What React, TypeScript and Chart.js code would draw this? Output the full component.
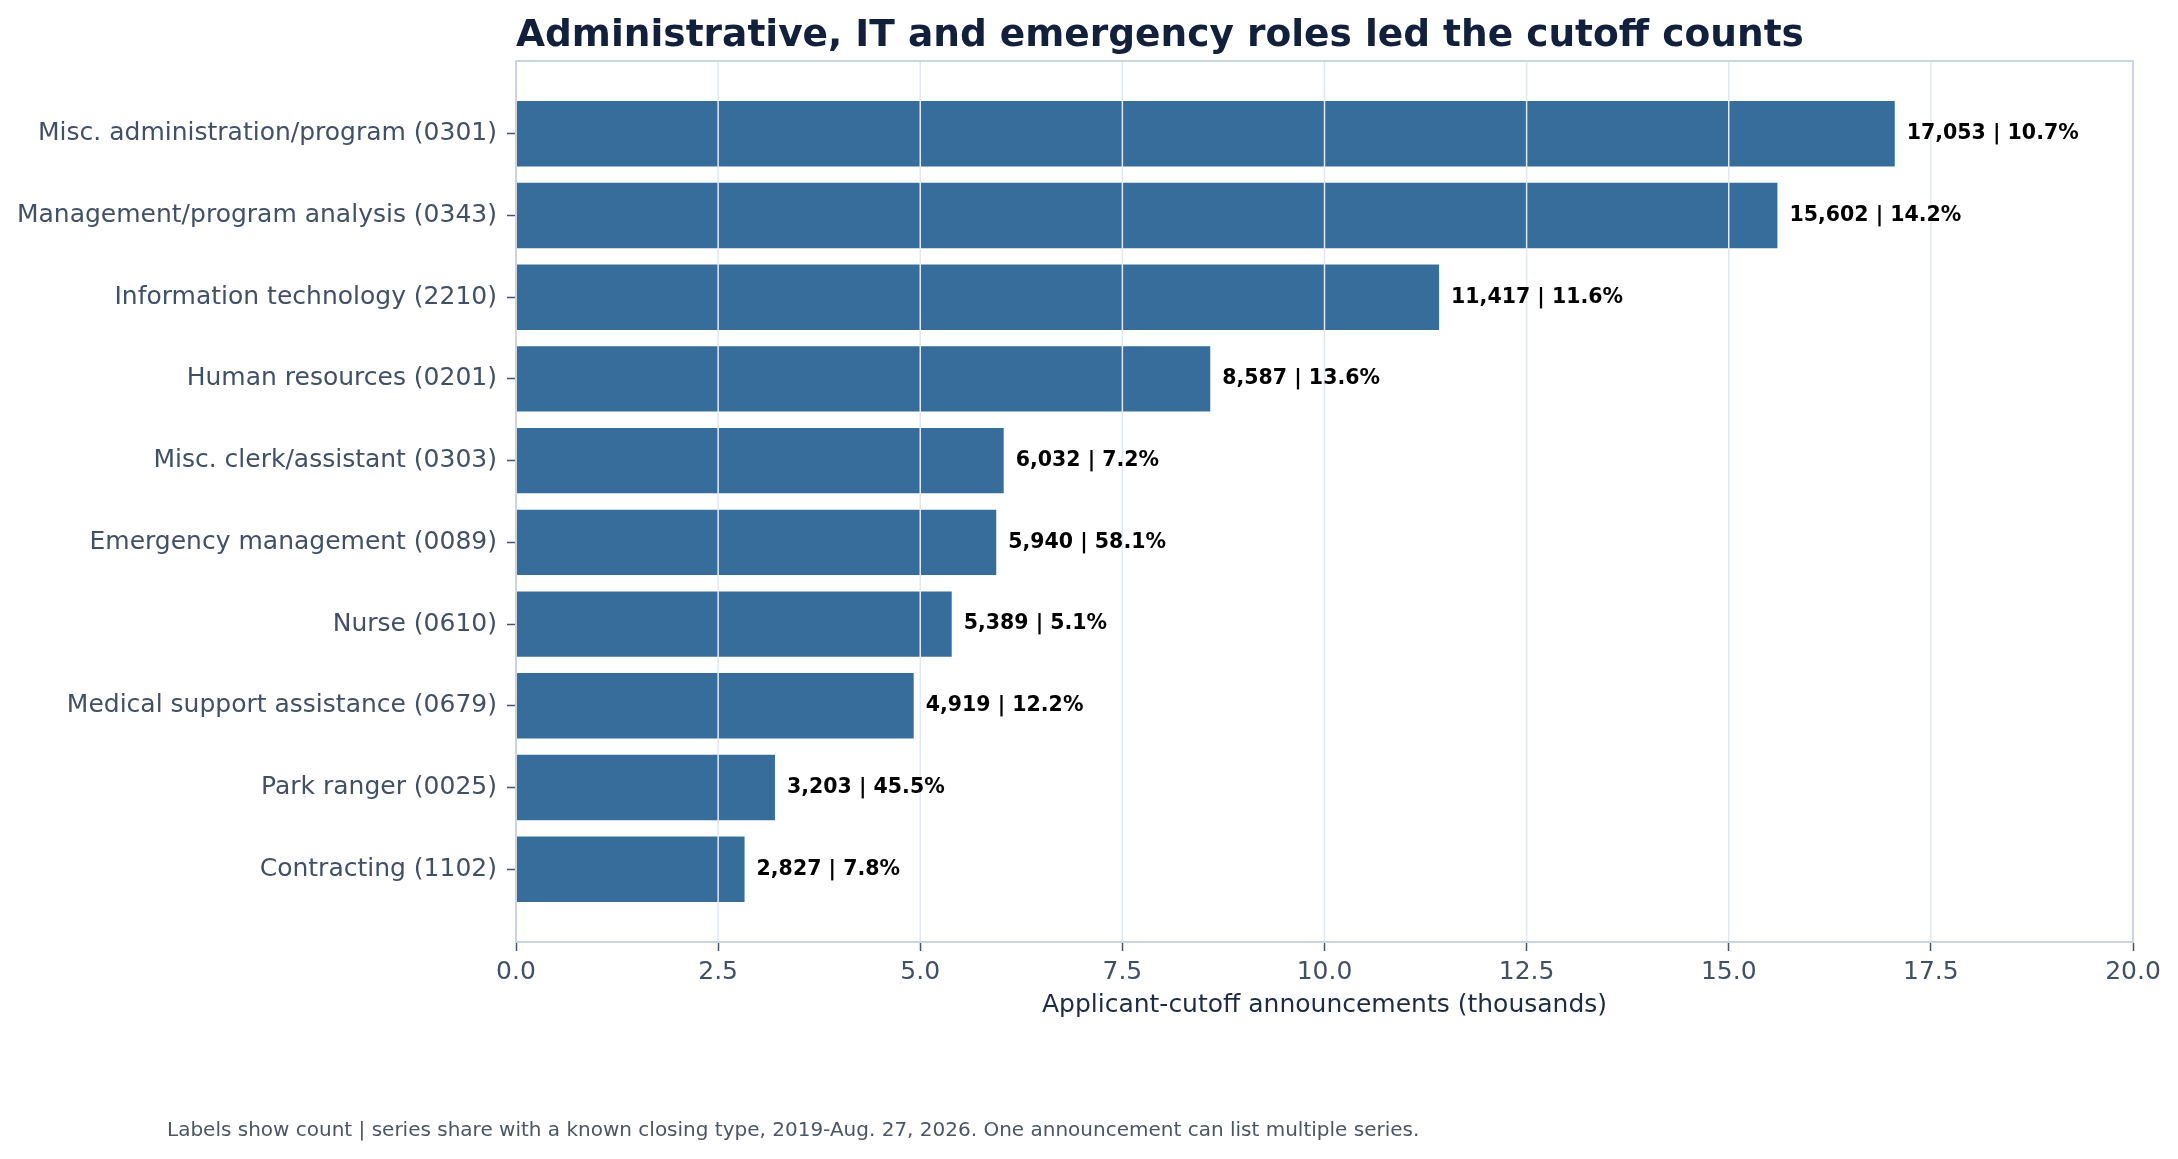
import React, { useEffect, useRef } from 'react';
import { Chart, registerables } from 'chart.js';

Chart.register(...registerables);

const categories = [
  'Misc. administration/program (0301)',
  'Management/program analysis (0343)',
  'Information technology (2210)',
  'Human resources (0201)',
  'Misc. clerk/assistant (0303)',
  'Emergency management (0089)',
  'Nurse (0610)',
  'Medical support assistance (0679)',
  'Park ranger (0025)',
  'Contracting (1102)',
];
const counts = [17053, 15602, 11417, 8587, 6032, 5940, 5389, 4919, 3203, 2827];
const shares = [10.7, 14.2, 11.6, 13.6, 7.2, 58.1, 5.1, 12.2, 45.5, 7.8];
const xTicks = [0, 2.5, 5, 7.5, 10, 12.5, 15, 17.5, 20];

const titleText = 'Administrative, IT and emergency roles led the cutoff counts';
const xTitle = 'Applicant-cutoff announcements (thousands)';
const footnote =
  'Labels show count | series share with a known closing type, 2019-Aug. 27, 2026. One announcement can list multiple series.';

const FONT = '"DejaVu Sans", sans-serif';

// gridlines over the bars, frame, bar-end labels, title and footnote
const decorations = {
  id: 'decorations',
  afterDatasetsDraw(chart: any) {
    const { ctx, chartArea, scales } = chart;
    ctx.save();
    ctx.strokeStyle = '#e2e8f0';
    ctx.lineWidth = 1.5;
    xTicks.forEach((v) => {
      const px = scales.x.getPixelForValue(v);
      ctx.beginPath();
      ctx.moveTo(px, chartArea.top);
      ctx.lineTo(px, chartArea.bottom);
      ctx.stroke();
    });
    ctx.restore();
  },
  afterDraw(chart: any) {
    const { ctx, chartArea } = chart;
    const meta = chart.getDatasetMeta(0);
    ctx.save();
    ctx.strokeStyle = '#cbd5e1';
    ctx.lineWidth = 2;
    ctx.strokeRect(chartArea.left, chartArea.top, chartArea.right - chartArea.left, chartArea.bottom - chartArea.top);

    ctx.font = `bold 20.5px ${FONT}`;
    ctx.fillStyle = '#000000';
    ctx.textBaseline = 'middle';
    ctx.textAlign = 'left';
    meta.data.forEach((bar: any, i: number) => {
      const txt = `${counts[i].toLocaleString('en-US')} | ${shares[i].toFixed(1)}%`;
      ctx.fillText(txt, bar.x + 12, bar.y);
    });

    ctx.font = `bold 37.5px ${FONT}`;
    ctx.fillStyle = '#13203b';
    ctx.textBaseline = 'alphabetic';
    ctx.fillText(titleText, chartArea.left, 46);

    ctx.font = `20px ${FONT}`;
    ctx.fillStyle = '#4b5563';
    ctx.textBaseline = 'middle';
    ctx.fillText(footnote, 167, 1131);
    ctx.restore();
  },
};

const App: React.FC = () => {
  const canvasRef = useRef<HTMLCanvasElement>(null);
  const chartRef = useRef<Chart | null>(null);

  useEffect(() => {
    document.body.style.margin = '0';
    if (!canvasRef.current) return;
    if (chartRef.current) chartRef.current.destroy();

    chartRef.current = new Chart(canvasRef.current, {
      type: 'bar',
      data: {
        datasets: [
          {
            data: counts.map((c, i) => ({ x: c / 1000, y: i })),
            backgroundColor: '#366d9b',
            borderWidth: 0,
            barPercentage: 0.8,
            categoryPercentage: 1,
          },
        ],
      },
      options: {
        indexAxis: 'y',
        animation: false,
        responsive: false,
        devicePixelRatio: 1,
        layout: { padding: { top: 61, right: 45, bottom: 141, left: 0 } },
        plugins: {
          legend: { display: false },
          tooltip: { enabled: false },
          title: { display: false },
        },
        scales: {
          x: {
            type: 'linear',
            min: 0,
            max: 20,
            afterBuildTicks: (scale: any) => {
              scale.ticks = xTicks.map((v) => ({ value: v }));
            },
            ticks: {
              color: '#425066',
              font: { family: FONT, size: 25 },
              padding: 6,
              callback: (v: any) => Number(v).toFixed(1),
            },
            grid: {
              drawOnChartArea: false,
              tickLength: 9,
              tickColor: '#475569',
              tickWidth: 1.5,
            },
            border: { color: '#cbd5e1', width: 2 },
            title: {
              display: true,
              text: xTitle,
              color: '#1e2b42',
              font: { family: FONT, size: 25, lineHeight: 1 },
              padding: { top: 0, bottom: 0 },
            },
          },
          y: {
            type: 'linear',
            min: -0.89,
            max: 9.89,
            reverse: true,
            offset: false,
            afterBuildTicks: (scale: any) => {
              scale.ticks = categories.map((_, i) => ({ value: i }));
            },
            afterFit: (scale: any) => {
              scale.width = 516;
            },
            ticks: {
              color: '#425066',
              font: { family: FONT, size: 25 },
              padding: 10,
              autoSkip: false,
              callback: (v: any) => categories[Math.round(Number(v))] ?? '',
            },
            grid: {
              offset: false,
              drawOnChartArea: false,
              tickLength: 9,
              tickColor: '#475569',
              tickWidth: 1.5,
            },
            border: { color: '#cbd5e1', width: 2 },
          },
        },
      },
      plugins: [decorations],
    } as any);

    return () => {
      if (chartRef.current) {
        chartRef.current.destroy();
        chartRef.current = null;
      }
    };
  }, []);

  return (
    <div style={{ width: 2178, height: 1159, background: '#ffffff', overflow: 'hidden' }}>
      <canvas ref={canvasRef} width={2178} height={1159} style={{ display: 'block' }} />
    </div>
  );
};

export default App;
